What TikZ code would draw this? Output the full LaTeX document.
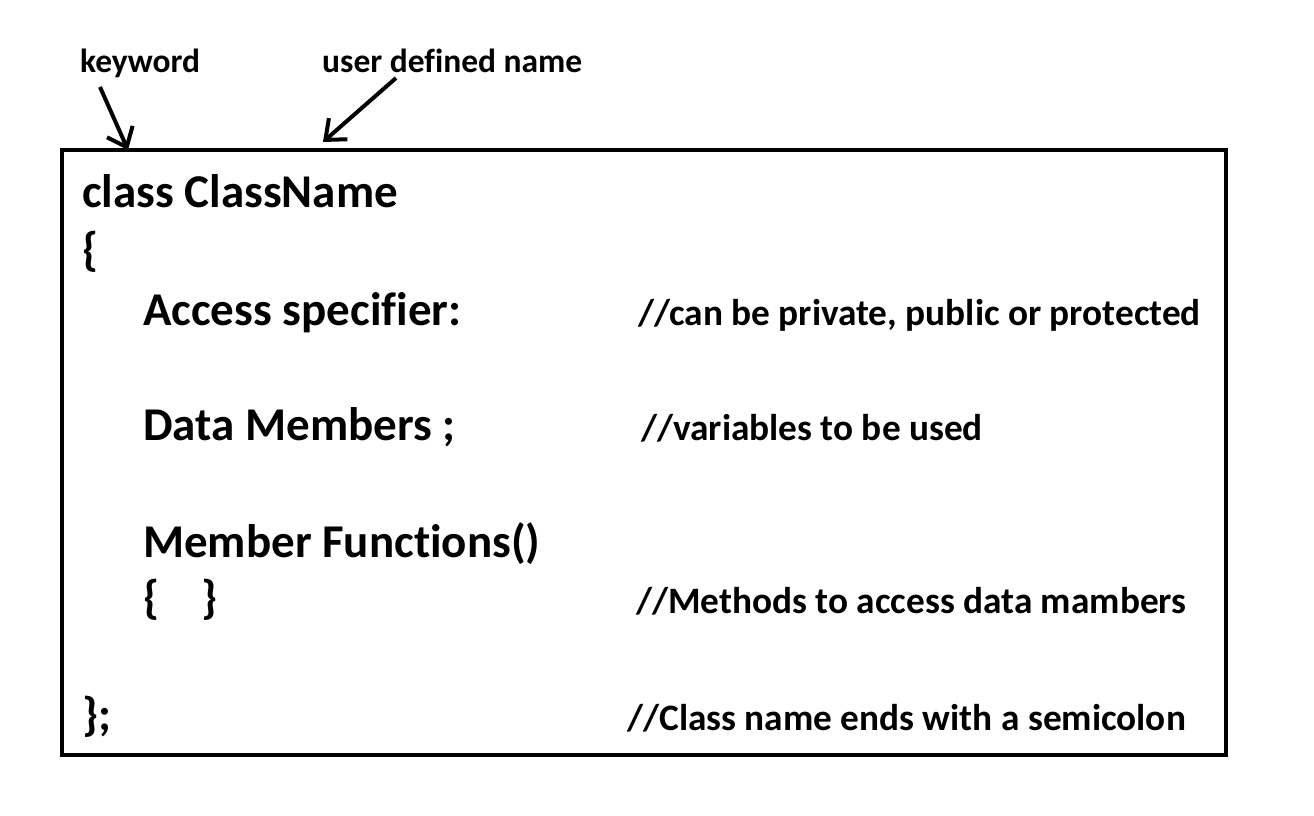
\documentclass[tikz,border=0pt]{standalone}
\usepackage{fontspec}
\setmainfont[Ligatures=NoCommon]{Carlito}
\usetikzlibrary{arrows.meta}
\tikzset{
  big/.style={inner sep=0pt, anchor=base west, font=\bfseries\fontsize{47}{47}\selectfont},
  cmt/.style={inner sep=0pt, anchor=base west, font=\bfseries\fontsize{37.3}{37.3}\selectfont},
  lbl/.style={inner sep=0pt, anchor=base west, font=\bfseries\fontsize{33.5}{33.5}\selectfont},
  arr/.style={line width=4pt, -{Straight Barb[length=17pt,width=28pt,line width=4pt]}},
}
\begin{document}
\begin{tikzpicture}[x=1pt,y=-1pt]
\useasboundingbox[fill=white] (0,0) rectangle (1314,816);
\draw[line width=4pt] (62,150) rectangle (1226,755);
\node[lbl] (kw) at (80,73) {keyword};
\node[lbl] (udn) at (322,73) {user defined name};
\coordinate (kwtail) at (100,87);
\coordinate (kwtip) at (128,150);
\coordinate (udtail) at (396,78);
\coordinate (udtip) at (323,142);
\draw[arr] (kwtail) -- (kwtip);
\draw[arr] (udtail) -- (udtip);
\node[big] (cls) at (82,207) {class ClassName};
\node[big] (ob) at (82,265) {\{};
\node[big] (acc) at (143,325) {Access specifier:};
\node[big] (dm) at (143,440) {Data Members ;};
\node[big] (mf) at (143,557) {Member Functions()};
\node[big] (br) at (143,613) {\{\hspace{42pt}\}};
\node[big] (cb) at (82,730) {\};};
\node[cmt] (c1) at (638,325) {//can be private, public or protected};
\node[cmt] (c2) at (641,440) {//variables to be used};
\node[cmt] (c3) at (636,613) {//Methods to access data mambers};
\node[cmt] (c4) at (627,730) {//Class name ends with a semicolon};
\end{tikzpicture}
\end{document}
